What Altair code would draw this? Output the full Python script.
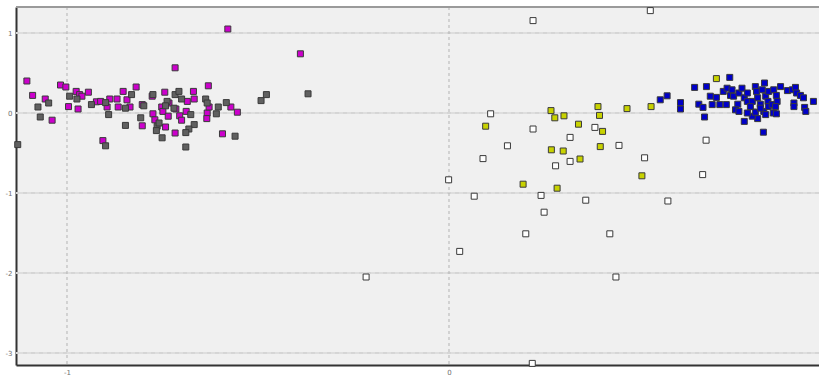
import altair as alt
import pandas as pd

# Scatter of five groups (x, y) with square markers
mag_x = [-1.105, -1.090, -1.057, -1.039, -1.017, -1.003, -0.996, -0.976, -0.971, -0.967,
         -0.961, -0.944, -0.923, -0.912, -0.906, -0.895, -0.888, -0.869, -0.866, -0.853,
         -0.843, -0.835, -0.819, -0.803, -0.803, -0.717, -0.630, -0.777, -0.744, -0.733,
         -0.752, -0.775, -0.770, -0.749, -0.735, -0.715, -0.705, -0.700, -0.688, -0.685,
         -0.669, -0.667, -0.633, -0.634, -0.628, -0.717, -0.742, -0.593, -0.571, -0.554,
         -0.579, -0.389]
mag_y = [0.40, 0.22, 0.175, -0.09, 0.35, 0.325, 0.08, 0.27, 0.05, 0.23,
         0.21, 0.26, 0.14, 0.145, -0.345, 0.075, 0.175, 0.175, 0.075, 0.27,
         0.165, 0.075, 0.325, 0.105, -0.16, 0.565, 0.34, 0.21, 0.26, 0.125,
         0.075, -0.01, -0.085, 0.02, -0.04, 0.05, -0.035, -0.09, 0.02, 0.145,
         0.27, 0.175, 0.0, -0.07, 0.075, -0.25, -0.175, -0.26, 0.075, 0.01,
         1.05, 0.74]

gray_x = [-1.129, -1.076, -1.070, -1.048, -0.993, -0.974, -0.936, -0.899, -0.891, -0.899,
          -0.847, -0.847, -0.831, -0.807, -0.799, -0.775, -0.717, -0.707, -0.700, -0.738,
          -0.742, -0.720, -0.676, -0.667, -0.681, -0.689, -0.764, -0.759, -0.766, -0.751,
          -0.689, -0.637, -0.633, -0.609, -0.604, -0.583, -0.560, -0.492, -0.478, -0.369]
gray_y = [-0.395, 0.075, -0.05, 0.125, 0.21, 0.175, 0.105, 0.13, -0.02, -0.41,
          0.06, -0.155, 0.23, -0.06, 0.09, 0.23, 0.23, 0.27, 0.175, 0.145,
          0.09, 0.06, -0.02, -0.145, -0.2, -0.245, -0.165, -0.125, -0.22, -0.31,
          -0.425, 0.175, 0.125, -0.01, 0.075, 0.13, -0.29, 0.155, 0.23, 0.24]

white_x = [0.220, 0.527, 0.109, 0.220, 0.153, 0.089, -0.001, 0.066, 0.241, 0.249,
           0.201, 0.028, -0.217, 0.218, 0.317, 0.382, 0.445, 0.512, 0.279, 0.317,
           0.673, 0.664, 0.796, 0.358, 0.421, 0.437, 0.573]
white_y = [1.155, 1.28, -0.01, -0.2, -0.41, -0.57, -0.835, -1.04, -1.03, -1.24,
           -1.51, -1.73, -2.05, -3.13, -0.305, -0.18, -0.405, -0.56, -0.66, -0.605,
           -0.34, -0.77, 0.01, -1.09, -1.51, -2.05, -1.10]

yel_x = [0.267, 0.277, 0.301, 0.096, 0.268, 0.299, 0.194, 0.283, 0.390, 0.394,
         0.466, 0.529, 0.339, 0.402, 0.396, 0.343, 0.505, 0.700]
yel_y = [0.03, -0.06, -0.035, -0.165, -0.46, -0.475, -0.89, -0.94, 0.08, -0.03,
         0.055, 0.08, -0.14, -0.23, -0.42, -0.575, -0.785, 0.43]

blue_x = [0.553, 0.571, 0.606, 0.606, 0.643, 0.674, 0.654, 0.665, 0.669, 0.684,
          0.700, 0.689, 0.709, 0.718, 0.728, 0.735, 0.726, 0.737, 0.745, 0.741,
          0.759, 0.756, 0.750, 0.759, 0.767, 0.773, 0.781, 0.773, 0.781, 0.794,
          0.789, 0.802, 0.805, 0.820, 0.826, 0.808, 0.815, 0.824, 0.829, 0.837,
          0.835, 0.836, 0.846, 0.850, 0.857, 0.859, 0.855, 0.849, 0.857, 0.868,
          0.886, 0.899, 0.907, 0.910, 0.920, 0.928, 0.903, 0.903, 0.931, 0.934,
          0.954, 0.823, 0.808, 0.794, 0.802, 0.781, 0.829, 0.815]
blue_y = [0.165, 0.215, 0.13, 0.05, 0.32, 0.33, 0.11, 0.07, -0.05, 0.21,
          0.195, 0.105, 0.105, 0.27, 0.31, 0.445, 0.105, 0.22, 0.21, 0.29,
          0.25, 0.11, 0.04, 0.02, 0.31, 0.19, 0.145, -0.105, 0.25, 0.145,
          0.08, 0.33, 0.27, 0.29, 0.375, 0.19, 0.11, 0.02, 0.21, 0.27,
          0.145, 0.08, 0.105, 0.29, 0.22, 0.145, 0.08, 0.0, -0.01, 0.33,
          0.28, 0.29, 0.32, 0.25, 0.22, 0.19, 0.125, 0.08, 0.07, 0.02,
          0.145, -0.24, -0.07, -0.04, 0.01, 0.0, -0.02, 0.06]

groups = [
    ("white", white_x, white_y),
    ("yellow", yel_x, yel_y),
    ("blue", blue_x, blue_y),
    ("magenta", mag_x, mag_y),
    ("gray", gray_x, gray_y),
]
group_names = [g[0] for g in groups]
group_colors = ["#FFFFFF", "#C8D200", "#0000C8", "#CC00CC", "#606060"]

rows = []
for order, (name, xs_, ys_) in enumerate(groups):
    for x, y in zip(xs_, ys_):
        rows.append({"x": x, "y": y, "group": name, "order": order})
points = pd.DataFrame(rows)

x_domain = [-1.1335, 0.9686]
y_domain = [-3.15, 1.325]
y_ticks = [-3, -2, -1, 0, 1]
x_ticks = [-1, 0]

xs = alt.Scale(domain=x_domain, nice=False, zero=False)
ys = alt.Scale(domain=y_domain, nice=False, zero=False)

x_axis = alt.Axis(
    values=x_ticks, title=None, grid=False, ticks=False, labelFontSize=7,
    labelColor="#707070", labelPadding=3, domainColor="#333333", domainWidth=2,
    labelExpr="'' + datum.value", labelFont="DejaVu Sans")
y_axis = alt.Axis(
    values=y_ticks, title=None, grid=False, ticks=False, labelFontSize=7,
    labelColor="#707070", labelPadding=4, domainColor="#333333", domainWidth=2,
    labelExpr="'' + datum.value", labelFont="DejaVu Sans")

X = lambda field: alt.X(field, scale=xs, axis=x_axis)
Y = lambda field: alt.Y(field, scale=ys, axis=y_axis)

hgrid = pd.DataFrame({"y": y_ticks})
vgrid = pd.DataFrame({"x": x_ticks})

h_solid = alt.Chart(hgrid).mark_rule(color="#DEDEDE", strokeWidth=2).encode(y=Y("y:Q"))
h_dash = alt.Chart(hgrid).mark_rule(color="#CDCDCD", strokeWidth=1, strokeDash=[4, 4]).encode(y=Y("y:Q"))
v_dash = alt.Chart(vgrid).mark_rule(color="#B4B4B4", strokeWidth=1, strokeDash=[3, 3]).encode(x=X("x:Q"))
top_line = alt.Chart(pd.DataFrame({"y": [y_domain[1]]})).mark_rule(
    color="#9A9A9A", strokeWidth=2
).encode(y=Y("y:Q"))

scatter = alt.Chart(points).mark_square(
    size=36, stroke="#3A3A3A", strokeWidth=1, opacity=1
).encode(
    x=X("x:Q"),
    y=Y("y:Q"),
    fill=alt.Fill("group:N", scale=alt.Scale(domain=group_names, range=group_colors), legend=None),
    order=alt.Order("order:Q"),
)

chart = alt.layer(h_solid, h_dash, v_dash, top_line, scatter).properties(
    width=803, height=358,
    autosize=alt.AutoSizeParams(type="none"),
    padding={"left": 16, "top": 7, "right": 0, "bottom": 11},
    background="#FFFFFF",
).configure_view(fill="#F0F0F0", stroke=None)

chart.save("out.html", embed_options={"renderer": "svg", "actions": False})
